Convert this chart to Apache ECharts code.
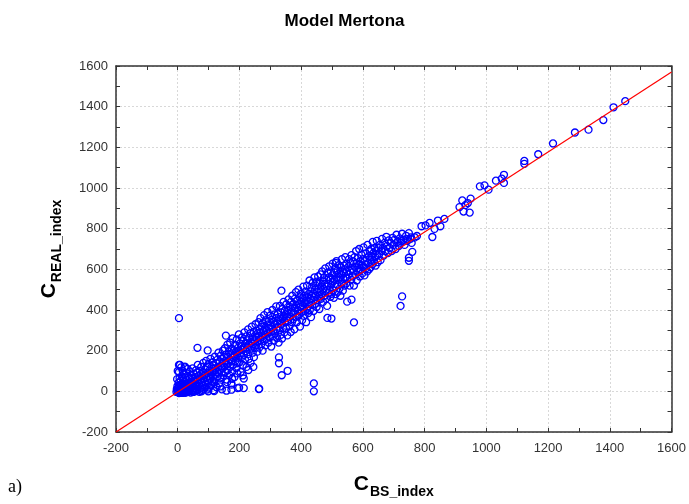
<!DOCTYPE html>
<html>
<head>
<meta charset="utf-8">
<script src="https://cdn.jsdelivr.net/npm/echarts@6/dist/echarts.min.js"></script>
<style>html,body{margin:0;padding:0;background:#fff}#c{width:689px;height:504px}</style>
</head>
<body>
<div id="c"></div>
<script>
var chartTitle = 'Model Mertona';
var xName = 'BS_index';
var yName = 'REAL_index';
var axisMin = -200, axisMax = 1600, axisStep = 200;

// [C_BS_index, C_REAL_index] pairs
var nearOrigin = [[0,3],[1,-4],[2,18],[3,7],[3,42],[4,-9],[4,95],[5,26],[6,2],[6,64],[7,130],[8,11],[8,-6],[9,51],[10,33],[11,-2],[11,118],[12,8],[13,74],[14,22],[14,-8],[15,40],[16,101],[17,3],[17,58],[18,15],[19,-5],[20,85],[21,29],[22,6],[22,47],[23,122],[24,-7],[25,19],[25,68],[26,36],[27,1],[28,90],[29,12],[30,54],[31,-4],[31,27],[32,110],[33,8],[34,44],[35,71],[36,-1],[37,20],[38,60],[39,5],[40,97],[41,33],[42,-6],[43,14],[44,79],[45,48],[46,2],[47,25],[48,113],[49,62],[50,-3],[51,38],[52,9],[53,86],[54,17],[55,52],[56,0],[57,70],[58,31],[59,104],[60,11],[-3,10],[-2,60],[-1,25],[0,100],[-4,-3]];
var bandLow = [[61,47],[62,92],[63,4],[65,58],[65,130],[66,21],[68,76],[69,38],[70,-2],[71,101],[73,55],[74,14],[74,83],[76,120],[77,41],[78,66],[79,7],[81,95],[82,29],[83,140],[84,60],[85,77],[86,12],[88,48],[89,108],[90,84],[91,33],[92,150],[93,70],[95,9],[95,122],[96,56],[98,91],[99,40],[100,135],[101,74],[102,18],[103,103],[105,62],[106,160],[107,87],[108,29],[109,118],[111,52],[112,95],[113,143],[114,71],[116,6],[116,128],[117,99],[118,45],[120,170],[121,83],[122,112],[123,60],[125,138],[126,20],[127,96],[128,155],[129,73],[131,118],[132,190],[133,88],[134,40],[136,147],[137,106],[138,66],[139,175],[141,125],[142,92],[143,10],[144,160],[145,113],[146,200],[148,78],[149,140],[150,168]];
var bandMid1 = [[151,120],[153,212],[154,95],[155,150],[157,181],[158,58],[159,133],[161,230],[162,104],[163,170],[165,142],[166,196],[167,80],[169,158],[170,240],[171,121],[173,185],[174,147],[175,210],[177,98],[178,260],[179,166],[180,131],[182,203],[183,175],[184,70],[186,228],[187,150],[188,192],[190,115],[191,255],[192,180],[194,138],[195,214],[196,165],[198,280],[199,200],[200,143],[202,236],[203,187],[204,95],[206,222],[207,168],[208,265],[210,205],[211,130],[212,248],[214,180],[215,216],[216,290],[218,157],[219,234],[220,198],[222,270],[223,120],[224,215],[226,251],[227,183],[228,305],[230,230],[231,160],[232,262],[234,205],[235,285],[236,140],[238,240],[239,215],[240,318],[242,258],[243,190],[244,232],[246,292],[247,168],[248,250],[250,212],[160,45],[176,62],[193,88],[211,78],[229,105],[245,120]];
var bandMid2 = [[251,275],[252,330],[254,228],[255,262],[256,300],[258,195],[259,286],[260,244],[262,340],[263,270],[264,215],[266,305],[267,252],[268,360],[270,290],[271,233],[272,318],[274,270],[275,200],[276,335],[278,296],[279,248],[280,375],[282,312],[283,275],[284,226],[286,350],[287,300],[288,258],[290,328],[291,390],[292,285],[294,240],[295,345],[296,308],[298,266],[299,372],[300,325],[302,290],[303,220],[304,352],[306,315],[307,400],[308,270],[310,340],[311,298],[312,250],[314,378],[315,330],[316,285],[318,360],[319,418],[320,305],[322,262],[323,345],[324,382],[326,318],[327,240],[328,365],[330,300],[331,420],[332,345],[334,278],[335,388],[336,330],[338,260],[339,405],[340,356],[342,312],[343,440],[344,370],[346,290],[347,396],[348,340],[350,380]];
var bandMid3 = [[351,310],[352,428],[354,362],[355,275],[356,400],[358,345],[359,452],[360,380],[362,320],[363,415],[364,366],[366,292],[367,440],[368,390],[370,340],[371,470],[372,408],[374,355],[375,430],[376,385],[378,305],[379,455],[380,410],[382,365],[383,488],[384,425],[386,340],[387,445],[388,398],[390,370],[391,500],[392,428],[394,380],[395,462],[396,318],[398,415],[399,480],[400,440],[402,390],[403,350],[404,458],[406,420],[407,515],[408,372],[410,470],[411,432],[412,395],[414,490],[415,445],[416,340],[418,405],[419,520],[420,462],[422,418],[423,385],[424,478],[426,440],[427,545],[428,400],[430,492],[431,455],[432,365],[434,510],[435,470],[436,425],[438,535],[439,482],[440,395],[442,450],[443,560],[444,500],[446,430],[447,520],[448,470],[450,415]];
var bandHigh1 = [[451,540],[452,488],[454,448],[455,565],[456,505],[458,470],[459,405],[460,530],[462,490],[463,575],[464,455],[466,515],[467,478],[468,590],[470,540],[471,440],[472,505],[474,560],[475,470],[476,528],[478,605],[479,492],[480,455],[482,548],[483,515],[484,420],[486,582],[487,530],[488,485],[490,560],[491,615],[492,500],[494,548],[495,465],[496,590],[498,525],[499,480],[500,570],[502,628],[503,540],[504,498],[506,460],[507,585],[508,548],[510,605],[511,515],[512,478],[514,640],[515,560],[516,525],[518,595],[519,490],[520,548],[522,620],[523,578],[524,505],[526,560],[527,470],[528,610],[530,575],[531,530],[532,650],[534,590],[535,495],[536,555],[538,618],[539,580],[540,520],[542,600],[543,660],[544,560],[546,530],[547,628],[548,590],[550,555]];
var bandHigh2 = [[552,610],[554,575],[555,650],[557,520],[558,592],[560,630],[562,548],[563,670],[565,600],[566,565],[568,640],[570,590],[571,520],[573,660],[574,612],[576,575],[578,690],[579,630],[580,545],[582,605],[584,655],[585,588],[587,620],[588,700],[590,565],[592,640],[593,600],[595,672],[597,620],[598,580],[600,650],[602,708],[603,610],[605,570],[607,640],[608,678],[610,605],[612,655],[614,590],[615,720],[617,630],[619,665],[620,600],[622,690],[624,645],[625,610],[627,700],[629,660],[631,625],[632,735],[634,680],[636,640],[638,705],[640,660],[641,618],[643,690],[645,740],[647,670],[648,635],[650,705],[653,675],[655,720],[657,645],[660,690],[662,750],[665,705],[667,668],[670,730],[673,690],[676,760],[678,715],[681,680],[684,742],[687,705],[690,730],[693,690],[696,755],[699,720],[702,745],[706,700],[709,770],[712,735],[716,715],[719,752],[723,730],[727,775],[731,745],[735,720],[740,765],[744,740],[749,778],[754,750],[758,730]];
var upperTail = [[1450,1427],[1412,1397],[1379,1334],[1331,1287],[1287,1273],[1216,1219],[1168,1166],[1123,1133],[1123,1119],[1057,1065],[1057,1025],[1050,1046],[1031,1036],[1007,992],[994,1013],[979,1008],[949,948],[940,926],[922,939],[913,906],[926,884],[946,879],[932,916],[864,848],[851,812],[843,840],[832,799],[825,759],[816,828],[803,816],[790,812],[775,764],[768,757],[756,757],[743,748],[725,738],[749,657],[749,642],[760,686]];
var outliers = [[727,467],[722,420],[441,39],[441,0],[328,167],[328,138],[356,101],[337,79],[214,63],[263,11],[199,18],[174,8],[174,39],[571,339],[549,441],[563,451],[485,361],[498,358],[336,495],[512,632],[4,360],[64,214],[97,201],[156,274],[4,130],[23,118],[174,33],[194,16],[214,16],[264,13],[137,24],[158,3],[118,1],[99,0],[90,21],[77,0]];
var fitLine = [[-200,-200],[1600,1571]];

var points = [].concat(nearOrigin, bandLow, bandMid1, bandMid2, bandMid3, bandHigh1, bandHigh2, upperTail, outliers);

var chart = echarts.init(document.getElementById('c'));
var fontFam = 'Liberation Sans, Arial, sans-serif';
var labelStyle = {color: '#333', fontSize: 13, fontFamily: fontFam, formatter: function (v) { return String(v); }};
function baseAxis(pos) {
  return {
    type: 'value', position: pos, min: axisMin, max: axisMax, interval: axisStep,
    axisLine: {show: true, onZero: false, lineStyle: {color: '#333', width: 1.5}},
    axisTick: {show: true, inside: true, length: 4, lineStyle: {color: '#333'}},
    minorTick: {show: true, splitNumber: 2, length: 4, lineStyle: {color: '#333'}},
    axisLabel: {show: false},
    splitLine: {show: false}
  };
}
var nameRich = {
  c: {fontSize: 21, fontWeight: 'bold', color: '#000', fontFamily: fontFam, verticalAlign: 'bottom', lineHeight: 24},
  s: {fontSize: 14, fontWeight: 'bold', color: '#000', fontFamily: fontFam, verticalAlign: 'bottom', lineHeight: 18, padding: [0, 0, -4, 1]}
};
var xMain = baseAxis('bottom');
xMain.axisLabel = Object.assign({margin: 10}, labelStyle);
xMain.splitLine = {show: true, lineStyle: {color: '#d8d8d8', type: [2, 2], width: 1}};
xMain.name = '{c|C}{s|' + xName + '}';
xMain.nameLocation = 'middle';
xMain.nameGap = 39;
xMain.nameTextStyle = {rich: nameRich};
var yMain = baseAxis('left');
yMain.axisLabel = Object.assign({margin: 8}, labelStyle);
yMain.splitLine = {show: true, lineStyle: {color: '#d8d8d8', type: [2, 2], width: 1}};
yMain.name = '{c|C}{s|' + yName + '}';
yMain.nameLocation = 'middle';
yMain.nameGap = 56;
yMain.nameRotate = 90;
yMain.nameTextStyle = {rich: nameRich};

chart.setOption({
  backgroundColor: '#fff',
  animation: false,
  title: {text: chartTitle, left: 'center', top: 8, textStyle: {fontSize: 17, fontWeight: 'bold', color: '#000', fontFamily: fontFam}},
  grid: {left: 116, right: 17, top: 66, bottom: 68, containLabel: false},
  xAxis: [xMain, baseAxis('top')],
  yAxis: [yMain, baseAxis('right')],
  graphic: [{type: 'text', left: 8, top: 478, style: {text: 'a)', fontSize: 18, fontFamily: 'Liberation Serif, DejaVu Serif, serif', fill: '#000'}}],
  series: [
    {type: 'scatter', data: points, symbol: 'circle', symbolSize: 7, xAxisIndex: 0, yAxisIndex: 0,
     itemStyle: {color: 'rgba(255,255,255,0)', borderColor: '#0000ff', borderWidth: 1.3, opacity: 1}, z: 2},
    {type: 'line', data: fitLine, showSymbol: false, symbol: 'none', xAxisIndex: 0, yAxisIndex: 0,
     lineStyle: {color: '#ff0000', width: 1.2}, z: 3}
  ]
});
</script>
</body>
</html>
